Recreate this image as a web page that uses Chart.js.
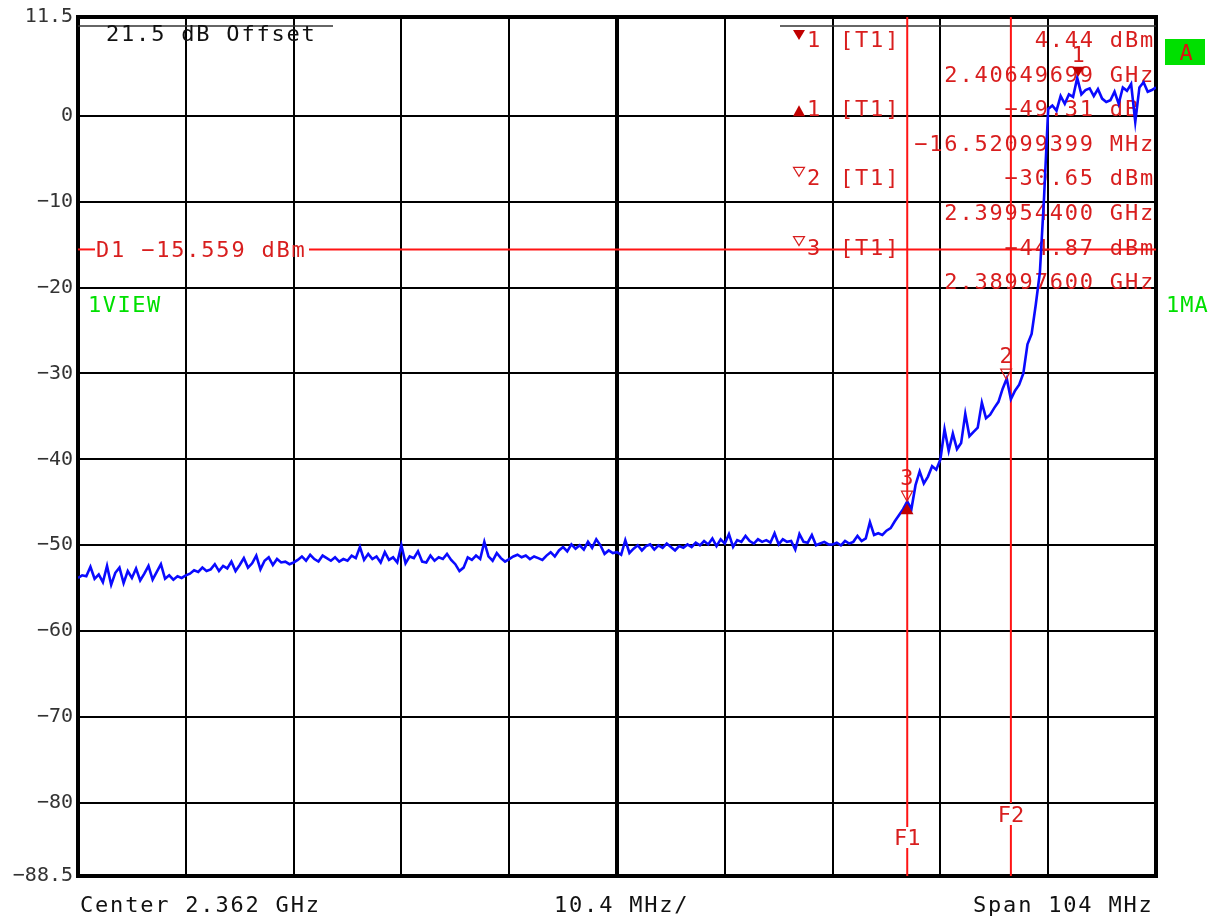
<!DOCTYPE html>
<html>
<head>
<meta charset="utf-8">
<script src="https://cdn.jsdelivr.net/npm/chart.js@4.4.1/dist/chart.umd.min.js"></script>
<style>
  html, body { margin: 0; background: #fff; }
  #wrap { width: 1219px; height: 919px; position: relative; }
</style>
</head>
<body>
<div id="wrap"><canvas id="myChart"></canvas></div>
<script>
// trace: start frequency and step in MHz, levels in dBm
const startMHz = 2310;
const stepMHz = 0.4;
const levels = [
  -53.8, -53.5, -53.6, -52.5, -53.9, -53.4, -54.3, -52.4, -54.6, -53.2,
  -52.6, -54.4, -53.0, -53.8, -52.7, -54.1, -53.3, -52.4, -54.0, -53.1,
  -52.2, -53.9, -53.5, -54.0, -53.6, -53.8,
  -53.5, -53.3, -52.9, -53.1, -52.6, -53.0, -52.8, -52.2, -53.0, -52.4,
  -52.7, -51.9, -53.0, -52.3, -51.5, -52.6, -52.1, -51.2, -52.8, -51.8,
  -51.4, -52.3, -51.6, -52.0, -51.9, -52.2,
  -52.0, -51.7, -51.3, -51.8, -51.1, -51.6, -51.9, -51.2, -51.5, -51.8,
  -51.4, -51.9, -51.6, -51.8, -51.2, -51.5, -50.2, -51.7, -51.0, -51.6,
  -51.3, -52.0, -50.8, -51.7, -51.4, -52.0,
  -50.0, -52.1, -51.3, -51.5, -50.7, -51.9, -52.0, -51.2, -51.8, -51.4,
  -51.6, -51.0, -51.7, -52.2, -53.0, -52.6, -51.4, -51.7, -51.2, -51.6,
  -49.6, -51.3, -51.8, -50.9, -51.5, -51.9,
  -51.6, -51.3, -51.1, -51.4, -51.2, -51.6, -51.3, -51.5, -51.7, -51.2,
  -50.8, -51.3, -50.6, -50.2, -50.7, -49.9, -50.4, -50.0, -50.5, -49.6,
  -50.3, -49.3, -50.0, -51.0, -50.6, -50.9,
  -50.8, -51.1, -49.4, -50.9, -50.4, -50.0, -50.6, -50.1, -49.9, -50.5,
  -50.0, -50.3, -49.8, -50.2, -50.6, -50.1, -50.3, -49.9, -50.2, -49.7,
  -50.0, -49.5, -49.9, -49.2, -50.1, -49.3,
  -49.8, -48.7, -50.2, -49.4, -49.6, -48.9, -49.5, -49.8, -49.3, -49.6,
  -49.4, -49.7, -48.6, -49.9, -49.3, -49.6, -49.5, -50.5, -48.7, -49.6,
  -49.7, -48.8, -50.0, -49.8, -49.6, -49.9,
  -49.9, -49.7, -50.0, -49.5, -49.8, -49.6, -48.9, -49.5, -49.2, -47.3,
  -48.8, -48.6, -48.8, -48.3, -48.0, -47.2, -46.5, -45.8,
  -44.9, -45.8, -43.0, -41.4, -42.8, -42.0, -40.8, -41.2, -40.0, -36.5,
  -39.0, -37.0, -38.8, -38.1, -34.7, -37.3, -36.8, -36.3, -33.4, -35.2,
  -34.8, -34.0, -33.3, -31.8, -30.6,
  -33.0, -32.0, -31.3, -30.0, -26.6, -25.4, -22.0, -18.2, -9.5, 0.8,
  1.2, 0.6, 2.3, 1.4, 2.5, 2.2, 4.4, 2.5, 3.0, 3.2,
  2.3, 3.1, 2.0, 1.6, 1.8, 2.8, 1.4, 3.3, 2.9, 3.7,
  -0.7, 3.3, 3.9, 2.8, 3.0, 3.3
];

// axes
const xTicks = [2310, 2320.4, 2330.8, 2341.2, 2351.6, 2362, 2372.4, 2382.8, 2393.2, 2403.6, 2414];
const yTicks = [11.5, 0, -10, -20, -30, -40, -50, -60, -70, -80, -88.5];
const yTickLabels = ['11.5', '0', '\u221210', '\u221220', '\u221230', '\u221240', '\u221250', '\u221260', '\u221270', '\u221280', '\u221288.5'];

// markers (MHz, dBm)
const markerNames = ['1', '2', '3'];
const markerFreqs = [2406.49699, 2399.544, 2389.976];
const markerLevels = [4.44, -30.65, -44.87];

// frequency lines and display line
const f1 = 2390;
const f2 = 2400;
const d1 = -15.559;

// marker table text
const markerRows = [
  ['down', '1', '[T1]', '4.44 dBm'],
  ['', '', '', '2.40649699 GHz'],
  ['up', '1', '[T1]', '\u221249.31 dB '],
  ['', '', '', '\u221216.52099399 MHz'],
  ['open', '2', '[T1]', '\u221230.65 dBm'],
  ['', '', '', '2.39954400 GHz'],
  ['open', '3', '[T1]', '\u221244.87 dBm'],
  ['', '', '', '2.38997600 GHz']
];

const points = levels.map((v, i) => ({ x: startMHz + i * stepMHz, y: v }));

const MONO = '"DejaVu Sans Mono", monospace';
const RED_TXT = '#d81e1e';
const RED_LINE = '#ff1414';
const DARK_RED = '#c00000';
const GREEN = '#00e000';

function txt(ctx, s, x, yc, color, align, spacing) {
  ctx.font = '22px ' + MONO;
  ctx.fillStyle = color;
  ctx.textAlign = align || 'left';
  ctx.textBaseline = 'alphabetic';
  ctx.letterSpacing = (spacing === undefined ? 1.8 : spacing) + 'px';
  ctx.fillText(s, x, yc + 8);
}

function tri(ctx, x, yTip, w, h, down, filled, color) {
  ctx.beginPath();
  if (down) {
    ctx.moveTo(x - w / 2, yTip - h); ctx.lineTo(x + w / 2, yTip - h); ctx.lineTo(x, yTip);
  } else {
    ctx.moveTo(x - w / 2, yTip + h); ctx.lineTo(x + w / 2, yTip + h); ctx.lineTo(x, yTip);
  }
  ctx.closePath();
  if (filled) { ctx.fillStyle = color; ctx.fill(); }
  else { ctx.strokeStyle = color; ctx.lineWidth = 1.2; ctx.stroke(); }
}

function hline(ctx, x0, x1, y, color, w) {
  ctx.beginPath(); ctx.strokeStyle = color; ctx.lineWidth = w;
  ctx.moveTo(x0, y); ctx.lineTo(x1, y); ctx.stroke();
}
function vline(ctx, x, y0, y1, color, w) {
  ctx.beginPath(); ctx.strokeStyle = color; ctx.lineWidth = w;
  ctx.moveTo(x, y0); ctx.lineTo(x, y1); ctx.stroke();
}

const overlay = {
  id: 'overlay',
  beforeDatasetsDraw(chart) {
    const { ctx, chartArea: a, scales: { x, y } } = chart;
    ctx.save();
    // frame
    ctx.strokeStyle = '#000';
    ctx.lineWidth = 4;
    ctx.strokeRect(a.left, a.top, a.right - a.left, a.bottom - a.top);

    // offset line + text
    hline(ctx, a.left, 333, 26, '#333', 1.5);
    hline(ctx, 780, a.right, 26, '#333', 1.5);
    txt(ctx, '21.5 dB Offset', 106, 33, '#111');

    // F1 / F2
    const xf1 = x.getPixelForValue(f1);
    const xf2 = x.getPixelForValue(f2);
    vline(ctx, xf1, a.top, 827, RED_LINE, 2);
    vline(ctx, xf1, 848, a.bottom, RED_LINE, 2);
    vline(ctx, xf2, a.top, 803, RED_LINE, 2);
    vline(ctx, xf2, 825, a.bottom, RED_LINE, 2);
    txt(ctx, 'F1', xf1, 837, RED_TXT, 'center', 0);
    txt(ctx, 'F2', xf2, 814, RED_TXT, 'center', 0);

    // D1
    const yd = y.getPixelForValue(d1);
    hline(ctx, a.left, 95, yd, RED_LINE, 2);
    hline(ctx, 309, a.right, yd, RED_LINE, 2);
    txt(ctx, 'D1 \u221215.559 dBm', 96, yd, RED_TXT);

    // marker table
    markerRows.forEach((r, i) => {
      const yc = 39 + i * 34.6;
      if (r[0] === 'down') tri(ctx, 799, yc + 1, 12, 10, true, true, DARK_RED);
      if (r[0] === 'up') tri(ctx, 799, yc - 3, 12, 11, false, true, DARK_RED);
      if (r[0] === 'open') tri(ctx, 799, yc - 1, 11, 9, true, false, RED_TXT);
      if (r[1]) txt(ctx, r[1], 807, yc, RED_TXT, 'left', 0);
      if (r[2]) txt(ctx, r[2], 840, yc, RED_TXT);
      txt(ctx, r[3], 1155, yc, RED_TXT, 'right');
    });

    // green labels
    txt(ctx, '1VIEW', 88, 304, GREEN, 'left', 1.5);
    txt(ctx, '1MA', 1166, 304, GREEN, 'left', 1);
    ctx.fillStyle = GREEN;
    ctx.fillRect(1165, 39, 40, 26);
    txt(ctx, 'A', 1186, 52, '#e01010', 'center', 0);

    // bottom labels
    txt(ctx, 'Center 2.362 GHz', 80, 904, '#111');
    txt(ctx, '10.4 MHz/', 554, 904, '#111');
    txt(ctx, 'Span 104 MHz', 973, 904, '#111');
    ctx.restore();
  },
  afterDatasetsDraw(chart) {
    const { ctx, scales: { x, y } } = chart;
    ctx.save();
    markerFreqs.forEach((f, i) => {
      const px = x.getPixelForValue(f);
      const py = y.getPixelForValue(markerLevels[i]);
      if (i === 0) tri(ctx, px, py - 1, 12, 10, true, true, DARK_RED);
      else tri(ctx, px, py, 11, 10, true, false, RED_TXT);
      txt(ctx, markerNames[i], px, py - 24, RED_TXT, 'center', 0);
    });
    // delta marker at marker 3 position
    const dx = x.getPixelForValue(markerFreqs[2]);
    const dy = y.getPixelForValue(markerLevels[2]);
    tri(ctx, dx, dy + 2, 13, 11, false, true, DARK_RED);
    ctx.restore();
  }
};

const ctx = document.getElementById('myChart');

new Chart(ctx, {
  type: 'line',
  data: {
    datasets: [{
      data: points,
      borderColor: '#0a0aff',
      borderWidth: 2.6,
      pointRadius: 0,
      tension: 0,
      fill: false
    }]
  },
  options: {
    responsive: true,
    maintainAspectRatio: false,
    animation: false,
    devicePixelRatio: 1,
    layout: { padding: { left: 0, right: 63, top: 13, bottom: 43 } },
    plugins: { legend: { display: false }, tooltip: { enabled: false } },
    scales: {
      x: {
        type: 'linear',
        min: 2310,
        max: 2414,
        afterBuildTicks: (s) => { s.ticks = xTicks.map(v => ({ value: v })); },
        afterFit: (s) => { s.height = 0; },
        ticks: { display: false },
        grid: {
          color: '#000',
          lineWidth: (c) => (c.index === 5 ? 4 : 2),
          drawTicks: false
        },
        border: { display: false }
      },
      y: {
        min: -88.5,
        max: 11.5,
        afterBuildTicks: (s) => { s.ticks = yTicks.map(v => ({ value: v })); },
        afterFit: (s) => { s.width = 78; },
        ticks: {
          padding: 5,
          color: '#333',
          font: { family: MONO, size: 20 },
          callback: (v, i) => yTickLabels[i]
        },
        grid: { color: '#000', lineWidth: 2, drawTicks: false },
        border: { display: false }
      }
    }
  },
  plugins: [overlay]
});
</script>
</body>
</html>
